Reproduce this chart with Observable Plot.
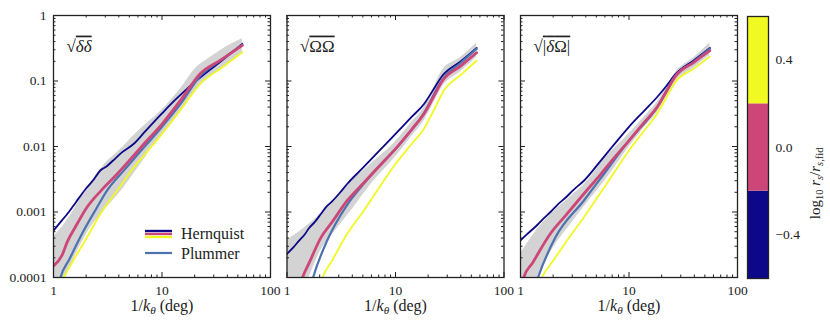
<!DOCTYPE html>
<html><head><meta charset="utf-8">
<script src="https://cdn.jsdelivr.net/npm/d3@7"></script>
<script src="https://cdn.jsdelivr.net/npm/@observablehq/plot@0.6"></script>
<style>
body{margin:0;background:#fff;}
#wrap{position:relative;width:830px;height:321px;font-family:"Liberation Serif",serif;}
#wrap > svg{position:absolute;top:0;}
#wrap text{font-family:"Liberation Serif",serif;}
</style></head><body><div id="wrap"></div>
<script>
// ---------- data ----------
const panels = ["dd", "OO", "dO"];
const panelLabels = ["√δδ", "√ΩΩ", "√|δΩ|"];
const xTicks = [1, 10, 100];
const xTickLabels = ["1", "10", "100"];
const yTicks = [1e-4, 1e-3, 1e-2, 0.1, 1];
const yTickLabels = ["0.0001", "0.001", "0.01", "0.1", "1"];
const legendLabels = ["Hernquist", "Plummer"];
const cbValues = [-0.4, 0.0, 0.4];
const cbColors = ["#0d0887", "#cc4778", "#f0f921"];
const seriesColors = {navy: "#0d0887", pink: "#cc4778", yellow: "#f0f921", blue: "#4c72b0"};
const seriesWidths = {navy: 1.8, yellow: 1.8, blue: 2.2, pink: 2.8};
const drawOrder = ["navy", "yellow", "blue", "pink"];

// panel 1: sqrt(delta delta)
const ddNavyX = [1, 1.1, 1.2, 1.35, 1.5, 1.7, 2, 2.3, 2.7, 3.1, 3.5, 4.3, 5.5, 7, 10, 13, 17, 25, 35, 55];
const ddNavyY = [0.00052, 0.00063, 0.00075, 0.00095, 0.0012, 0.0016, 0.0023, 0.003, 0.0043, 0.005, 0.006, 0.0082, 0.011, 0.017, 0.032, 0.05, 0.076, 0.13, 0.2, 0.37];
const ddPinkX = [1, 1.2, 1.34, 1.6, 2.05, 2.8, 3.86, 5.5, 7, 10, 15, 22.6, 35, 55];
const ddPinkY = [0.00015, 0.00022, 0.00035, 0.0006, 0.0012, 0.0022, 0.0038, 0.0073, 0.0115, 0.022, 0.052, 0.13, 0.21, 0.35];
const ddBlueX = [1.1, 1.16, 1.4, 1.9, 2.5, 3.1, 4.5, 6, 10, 15, 22.6, 35, 55];
const ddBlueY = [0.00007, 0.0001, 0.00019, 0.00052, 0.00115, 0.0021, 0.0044, 0.0076, 0.02, 0.046, 0.12, 0.21, 0.36];
const ddYellowX = [1.2, 1.24, 1.6, 2, 2.71, 4, 5.5, 7.5, 10, 15, 22.6, 35, 55];
const ddYellowY = [0.00009, 0.0001, 0.00021, 0.00039, 0.00094, 0.0023, 0.0048, 0.0088, 0.0156, 0.037, 0.091, 0.157, 0.275];
const ddBandX = [1, 1.3, 1.6, 2, 3, 4, 6, 10, 15, 20, 28, 40, 55];
const ddBandLo = [0.00005, 0.0001, 0.00022, 0.00045, 0.0011, 0.0019, 0.0047, 0.0155, 0.035, 0.068, 0.115, 0.18, 0.26];
const ddBandHi = [0.00042, 0.0007, 0.0012, 0.0022, 0.0055, 0.0085, 0.017, 0.036, 0.078, 0.15, 0.23, 0.34, 0.44];

// panel 2: sqrt(Omega Omega)
const ooNavyX = [1, 1.15, 1.3, 1.45, 1.6, 1.8, 2.06, 2.3, 2.6, 3.1, 3.6, 5, 7, 10, 14, 18.4, 22, 27, 40, 56];
const ooNavyY = [0.00023, 0.00029, 0.00037, 0.00045, 0.00057, 0.0007, 0.00094, 0.0012, 0.00145, 0.002, 0.0027, 0.0047, 0.0084, 0.0156, 0.028, 0.045, 0.071, 0.12, 0.2, 0.32];
const ooPinkX = [1.3, 1.39, 1.6, 2.06, 2.6, 3.6, 5, 7, 10, 14, 18.4, 22, 27, 40, 56];
const ooPinkY = [0.00007, 0.0001, 0.000167, 0.00041, 0.0007, 0.0015, 0.0027, 0.0049, 0.0092, 0.018, 0.032, 0.054, 0.10, 0.17, 0.27];
const ooBlueX = [1.6, 1.74, 2.35, 3.6, 5, 7, 10, 18.4, 27, 40, 56];
const ooBlueY = [0.00006, 0.0001, 0.00037, 0.0013, 0.0026, 0.0049, 0.0092, 0.033, 0.105, 0.19, 0.31];
const ooYellowX = [2, 2.13, 2.6, 3.6, 5, 7, 10, 14, 18.4, 22, 28.6, 40, 56];
const ooYellowY = [0.00007, 0.0001, 0.00018, 0.00047, 0.001, 0.0023, 0.0054, 0.0108, 0.019, 0.033, 0.076, 0.124, 0.205];
const ooBandX = [1, 1.5, 2, 3, 4, 6, 10, 14, 18.4, 22, 27, 40, 56];
const ooBandLo = [0.00003, 0.00008, 0.00024, 0.0006, 0.0011, 0.0027, 0.0069, 0.014, 0.025, 0.043, 0.081, 0.14, 0.23];
const ooBandHi = [0.00037, 0.0006, 0.0009, 0.0018, 0.003, 0.0055, 0.0118, 0.023, 0.04, 0.072, 0.145, 0.23, 0.38];

// panel 3: sqrt(|delta Omega|)
const doNavyX = [1, 1.15, 1.3, 1.45, 1.6, 1.89, 2.2, 2.6, 3.1, 3.84, 5.5, 7, 10, 14, 18.2, 22, 26.7, 40, 55.6];
const doNavyY = [0.00037, 0.00046, 0.00055, 0.00065, 0.00077, 0.001, 0.0013, 0.00165, 0.0022, 0.003, 0.0061, 0.0099, 0.02, 0.036, 0.057, 0.083, 0.126, 0.21, 0.32];
const doPinkX = [1.03, 1.07, 1.3, 1.89, 2.6, 3.84, 5.5, 7, 10, 14, 18.2, 22, 26.7, 40, 55.6];
const doPinkY = [0.00008, 0.0001, 0.00017, 0.00047, 0.00088, 0.0019, 0.0038, 0.0062, 0.0123, 0.024, 0.04, 0.068, 0.117, 0.195, 0.29];
const doBlueX = [1.35, 1.45, 2.1, 3.84, 5.5, 10, 18.2, 26.7, 40, 55.6];
const doBlueY = [0.00007, 0.0001, 0.00041, 0.0015, 0.0033, 0.0123, 0.04, 0.12, 0.2, 0.31];
const doYellowX = [1.5, 1.58, 2, 2.6, 3.84, 5.5, 7, 10, 14, 18.2, 22, 26.7, 40, 55.6];
const doYellowY = [0.00008, 0.0001, 0.00018, 0.00034, 0.00083, 0.002, 0.0036, 0.0087, 0.018, 0.032, 0.055, 0.096, 0.156, 0.236];
const doBandX = [1, 1.5, 2, 3, 4, 6, 10, 14, 18.2, 22, 26.7, 40, 55.6];
const doBandLo = [0.00002, 0.00012, 0.00028, 0.0007, 0.0013, 0.003, 0.0098, 0.02, 0.033, 0.057, 0.096, 0.16, 0.245];
const doBandHi = [0.00023, 0.0006, 0.001, 0.0018, 0.0028, 0.0066, 0.0156, 0.029, 0.048, 0.08, 0.134, 0.23, 0.38];

// ---------- tables ----------
const toRows = (panel, series, xs, ys) => xs.map((x, i) => ({panel, series, x, y: ys[i]}));
const toBand = (panel, xs, lo, hi) => xs.map((x, i) => ({panel, x, lo: lo[i], hi: hi[i]}));
const lineRows = [
  ...toRows("dd", "navy", ddNavyX, ddNavyY), ...toRows("dd", "pink", ddPinkX, ddPinkY),
  ...toRows("dd", "blue", ddBlueX, ddBlueY), ...toRows("dd", "yellow", ddYellowX, ddYellowY),
  ...toRows("OO", "navy", ooNavyX, ooNavyY), ...toRows("OO", "pink", ooPinkX, ooPinkY),
  ...toRows("OO", "blue", ooBlueX, ooBlueY), ...toRows("OO", "yellow", ooYellowX, ooYellowY),
  ...toRows("dO", "navy", doNavyX, doNavyY), ...toRows("dO", "pink", doPinkX, doPinkY),
  ...toRows("dO", "blue", doBlueX, doBlueY), ...toRows("dO", "yellow", doYellowX, doYellowY)
];
const bandRows = [
  ...toBand("dd", ddBandX, ddBandLo, ddBandHi),
  ...toBand("OO", ooBandX, ooBandLo, ooBandHi),
  ...toBand("dO", doBandX, doBandLo, doBandHi)
];
const labelRows = panels.map((p, i) => ({panel: p, label: panelLabels[i]}));

const decadesX = [1, 10];
const xMinor = decadesX.flatMap(d => [2,3,4,5,6,7,8,9].map(k => k * d));
const decadesY = [1e-4, 1e-3, 1e-2, 0.1];
const yMinor = decadesY.flatMap(d => [2,3,4,5,6,7,8,9].map(k => k * d));

// ---------- layout ----------
const W = 830, H = 321, mL = 53, mR = 93, mT = 15, mB = 44;
const innerH = H - mT - mB;
const padInner = 0.0707;
const innerW = (W - mL - mR) / (panels.length - padInner) * (1 - padInner);
const ink = "#222";
const majLen = 5, minLen = 2.5;
const FONT = '"Liberation Serif", serif';

const marks = [
  Plot.areaY(bandRows, {fx: "panel", x: "x", y1: "lo", y2: "hi", fill: "#d3d3d3", curve: "monotone-x", clip: true}),
  ...drawOrder.map(s => Plot.line(lineRows.filter(d => d.series === s), {
    fx: "panel", x: "x", y: "y", stroke: seriesColors[s], strokeWidth: seriesWidths[s], curve: "monotone-x", clip: true
  })),
  // inward ticks
  Plot.tickX(xTicks, {insetTop: innerH - majLen, stroke: ink}),
  Plot.tickX(xTicks, {insetBottom: innerH - majLen, stroke: ink}),
  Plot.tickX(xMinor, {insetTop: innerH - minLen, stroke: ink}),
  Plot.tickX(xMinor, {insetBottom: innerH - minLen, stroke: ink}),
  Plot.tickY(yTicks, {insetRight: innerW - majLen, stroke: ink}),
  Plot.tickY(yTicks, {insetLeft: innerW - majLen, stroke: ink}),
  Plot.tickY(yMinor, {insetRight: innerW - minLen, stroke: ink}),
  Plot.tickY(yMinor, {insetLeft: innerW - minLen, stroke: ink}),
  Plot.frame({stroke: ink, strokeWidth: 1.3}),
  Plot.axisX(xTicks, {tickSize: 0, tickPadding: 8, label: null, fontSize: 13.5,
    tickFormat: d => xTickLabels[xTicks.indexOf(d)]}),
  Plot.axisY(yTicks, {tickSize: 0, tickPadding: 7, label: null, fontSize: 13.5,
    tickFormat: d => yTickLabels[yTicks.findIndex(t => Math.abs(t - d) < t * 1e-6)]}),
  Plot.text(labelRows, {fx: "panel", frameAnchor: "top-left", text: "label", dx: 13, dy: 24, textAnchor: "start", fontSize: 17}),
  Plot.text(labelRows, {fx: "panel", frameAnchor: "bottom", text: () => "XLABEL", dy: 33, fontSize: 16})
];

const main = Plot.plot({
  width: W, height: H,
  marginLeft: mL, marginRight: mR, marginTop: mT, marginBottom: mB,
  style: {fontFamily: FONT, background: "transparent", color: ink},
  x: {type: "log", domain: [1, 100]},
  y: {type: "log", domain: [1e-4, 1]},
  fx: {domain: panels, paddingInner: padInner, paddingOuter: 0, round: false, axis: null},
  marks
});

// rich text: math labels
d3.select(main).selectAll("text").each(function() {
  const t = this.textContent;
  const el = d3.select(this);
  if (t === "XLABEL") {
    el.html('1/<tspan font-style="italic">k</tspan><tspan font-style="italic" font-size="70%" baseline-shift="-25%">θ</tspan> (deg)');
  } else if (t === "√δδ") {
    el.html('√<tspan style="text-decoration:overline" font-style="italic">δδ</tspan>');
  } else if (t === "√ΩΩ") {
    el.html('√<tspan style="text-decoration:overline">ΩΩ</tspan>');
  } else if (t === "√|δΩ|") {
    el.html('√<tspan style="text-decoration:overline">|<tspan font-style="italic">δ</tspan>Ω|</tspan>');
  }
});
main.style.left = "0px";

// ---------- colorbar ----------
const binHalf = 0.2;
const cbRows = cbValues.map((v, i) => ({lo: v - binHalf, hi: v + binHalf, color: cbColors[i]}));
const cb = Plot.plot({
  width: 83, height: H,
  marginLeft: 2, marginRight: 60, marginTop: 16, marginBottom: 43,
  style: {fontFamily: FONT, background: "transparent", color: ink},
  y: {domain: [-0.6, 0.6]},
  marks: [
    Plot.rect(cbRows, {y1: "lo", y2: "hi", fill: "color"}),
    Plot.frame({stroke: ink, strokeWidth: 1.3}),
    Plot.axisY(cbValues, {anchor: "right", tickSize: 0, tickPadding: 7, label: null, fontSize: 13.5, tickFormat: d3.format(".1f")}),
    Plot.text(["CBLABEL"], {frameAnchor: "right", dx: 47, rotate: -90, fontSize: 15, text: d => d})
  ]
});
d3.select(cb).selectAll("text").each(function() {
  if (this.textContent === "CBLABEL") {
    d3.select(this).html('log<tspan font-size="70%" baseline-shift="-25%">10</tspan> <tspan font-style="italic">r</tspan><tspan font-style="italic" font-size="70%" baseline-shift="-25%">s</tspan>/<tspan font-style="italic">r</tspan><tspan font-size="70%" baseline-shift="-25%"><tspan font-style="italic">s</tspan>,fid</tspan>');
  }
});
cb.style.left = "745px";

// ---------- legend (panel 1) ----------
const leg = d3.create("svg").attr("width", W).attr("height", H)
  .style("left", "0px").style("font-family", FONT);
const legX0 = 145, legX1 = 172;
[["navy", 231], ["pink", 234], ["yellow", 237], ["blue", 253]].forEach(([s, y]) => {
  leg.append("line").attr("x1", legX0).attr("x2", legX1).attr("y1", y).attr("y2", y)
    .attr("stroke", seriesColors[s]).attr("stroke-width", s === "blue" ? 2.2 : 2.4);
});
leg.append("text").attr("x", 181).attr("y", 239).attr("font-size", 16).attr("fill", ink).text(legendLabels[0]);
leg.append("text").attr("x", 181).attr("y", 259).attr("font-size", 16).attr("fill", ink).text(legendLabels[1]);

const wrap = document.getElementById("wrap");
wrap.appendChild(main);
wrap.appendChild(cb);
wrap.appendChild(leg.node());
</script></body></html>
